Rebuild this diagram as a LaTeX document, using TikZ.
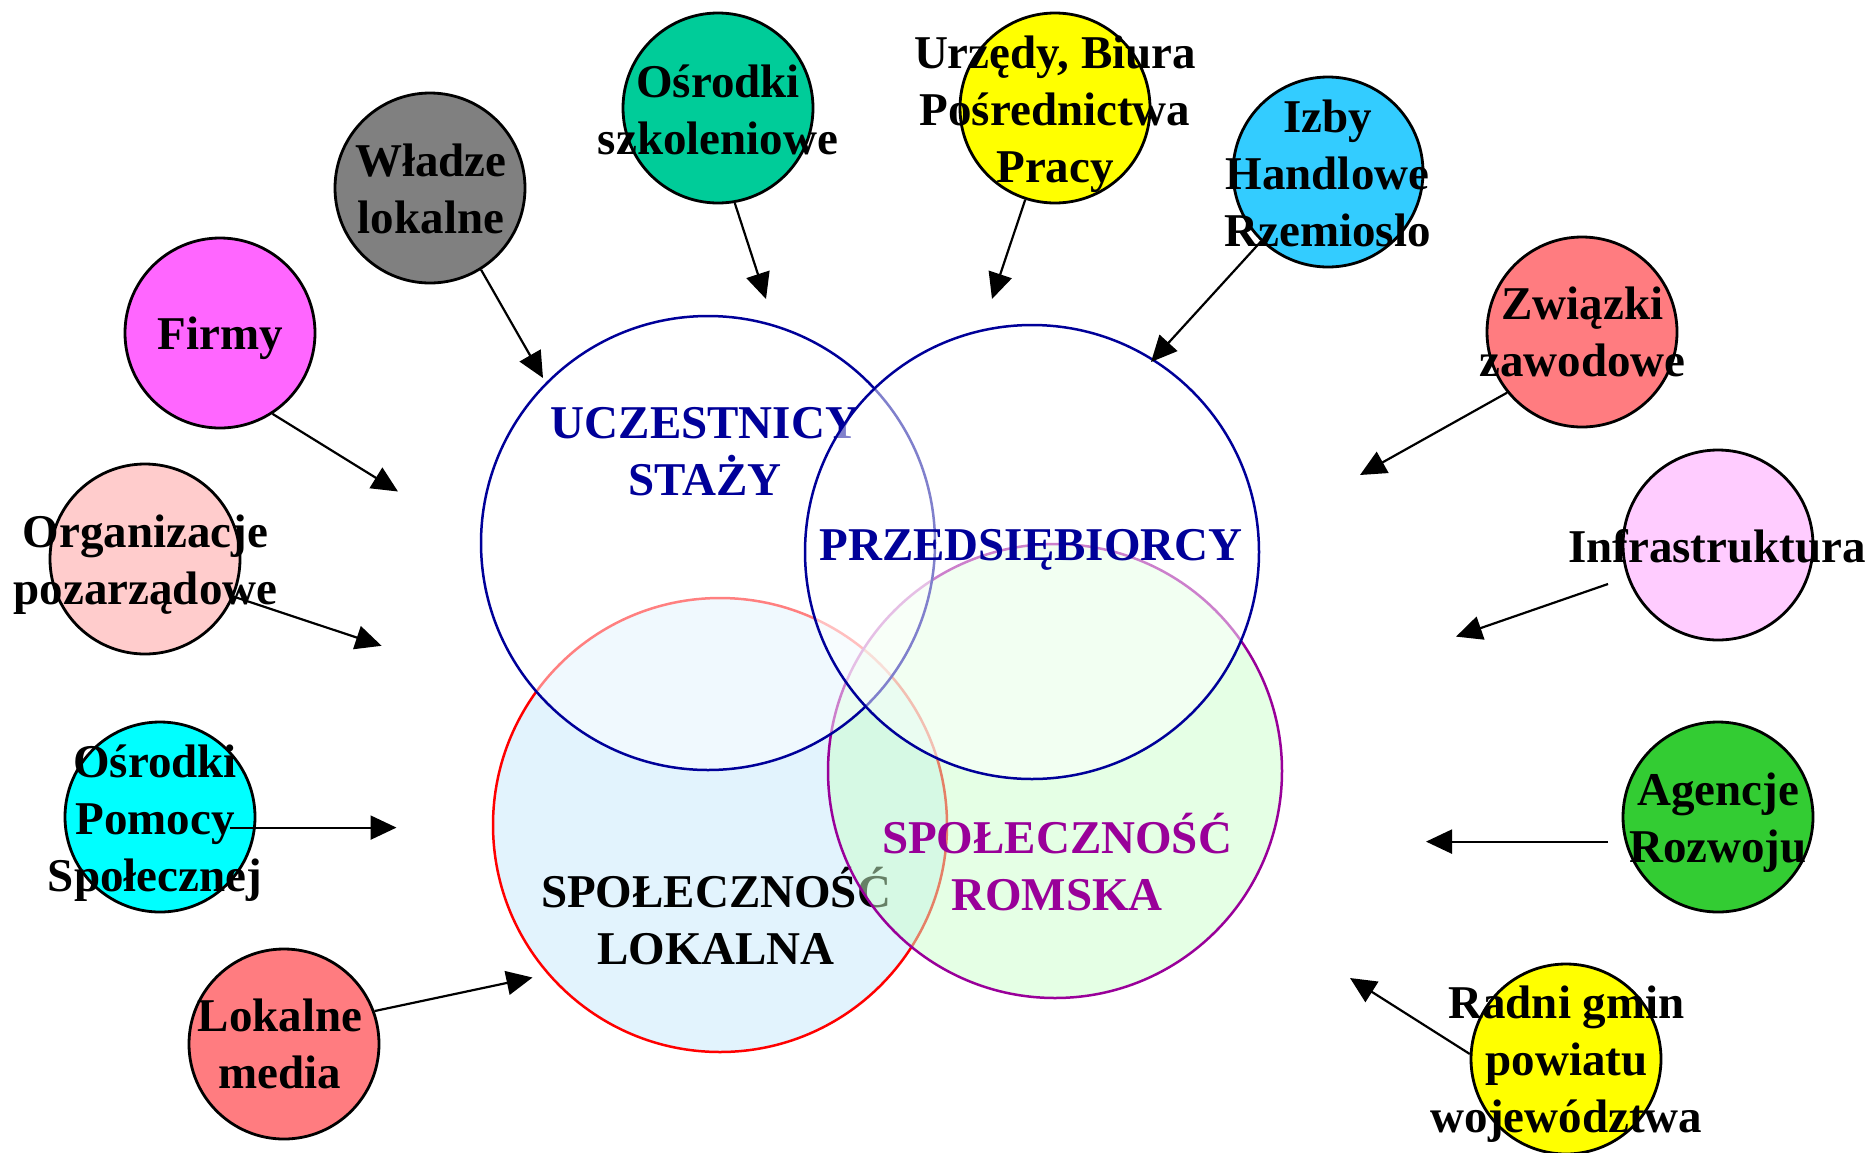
\documentclass[tikz,border=0pt]{standalone}
\usepackage{fontspec}
\setmainfont{Liberation Serif}
\usetikzlibrary{arrows.meta}
\definecolor{cOsk}{HTML}{00CC99}
\definecolor{cWla}{HTML}{808080}
\definecolor{cFir}{HTML}{FF66FF}
\definecolor{cOrg}{HTML}{FFCCCC}
\definecolor{cPom}{HTML}{00FFFF}
\definecolor{cMed}{HTML}{FF7C80}
\definecolor{cUrz}{HTML}{FFFF00}
\definecolor{cIzb}{HTML}{33CCFF}
\definecolor{cZwi}{HTML}{FF7C80}
\definecolor{cInf}{HTML}{FFCCFF}
\definecolor{cAge}{HTML}{33CC33}
\definecolor{cRad}{HTML}{FFFF00}
\definecolor{navyc}{HTML}{000099}
\definecolor{purc}{HTML}{990099}
\definecolor{lokfill}{HTML}{E2F3FD}
\definecolor{romfill}{HTML}{CCFFCC}
\newcommand\lbfont{\bfseries\fontsize{47}{57}\selectfont}
\newcommand\mlines[1]{\begin{tabular}[t]{@{}c@{}}#1\end{tabular}}
\tikzset{
  smallc/.style={circle, draw=black, line width=2.8pt, minimum size=190pt, inner sep=0pt},
  bigc/.style={circle, line width=2.5pt, minimum size=454pt, inner sep=0pt},
  lbl/.style={anchor=base, inner sep=0pt, font=\lbfont},
  arr/.style={line width=2.2pt, -{Triangle[length=26pt,width=24pt]}},
}
\begin{document}
\begin{tikzpicture}[x=1pt,y=-1pt]
\useasboundingbox (0,0) rectangle (1871,1152);

% big circles, in stacking order
\node[bigc, draw=red, fill=lokfill] (lok) at (720,825) {};
\node[lbl] (lokT) at (716,907.7) {\mlines{SPOŁECZNOŚĆ\\LOKALNA}};

\node[bigc, draw=purc, fill=romfill, fill opacity=0.5] (rom) at (1055,771) {};
\node[lbl, text=purc] (romT) at (1057,853) {\mlines{SPOŁECZNOŚĆ\\ROMSKA}};

\node[bigc, draw=navyc, fill=white, fill opacity=0.5] (ucz) at (708,543) {};
\node[lbl, text=navyc] (uczT) at (705,438) {\mlines{UCZESTNICY\\STAŻY}};

\node[bigc, draw=navyc, fill=white, fill opacity=0.5] (prz) at (1032,552) {};
\node[lbl, text=navyc] (przT) at (1031,560.3) {PRZEDSIĘBIORCY};

% small circles
\node[smallc, fill=cOsk] (osk) at (718,108) {};
\node[lbl] (oskT) at (718,97) {\mlines{Ośrodki\\szkoleniowe}};

\node[smallc, fill=cWla] (wla) at (430,188) {};
\node[lbl] (wlaT) at (431,176) {\mlines{Władze\\lokalne}};

\node[smallc, fill=cFir] (fir) at (220,333) {};
\node[lbl] (firT) at (220,349) {Firmy};

\node[smallc, fill=cOrg] (org) at (145,559) {};
\node[lbl] (orgT) at (145.5,547.4) {\mlines{Organizacje\\pozarządowe}};

\node[smallc, fill=cPom] (pom) at (160,817) {};
\node[lbl] (pomT) at (155,777) {\mlines{Ośrodki\\Pomocy\\Społecznej}};

\node[smallc, fill=cMed] (med) at (284,1044) {};
\node[lbl] (medT) at (280,1031.5) {\mlines{Lokalne\\media}};

\node[smallc, fill=cUrz] (urz) at (1055,108) {};
\node[lbl] (urzT) at (1055,68) {\mlines{Urzędy, Biura\\Pośrednictwa\\Pracy}};

\node[smallc, fill=cIzb] (izb) at (1328,172) {};
\node[lbl] (izbT) at (1327.5,132) {\mlines{Izby\\Handlowe\\Rzemioslo}};

\node[smallc, fill=cZwi] (zwi) at (1582,332) {};
\node[lbl] (zwiT) at (1582.5,319.6) {\mlines{Związki\\zawodowe}};

\node[smallc, fill=cInf] (inf) at (1718,545) {};
\node[lbl] (infT) at (1717,562) {Infrastruktura};

\node[smallc, fill=cAge] (age) at (1718,817) {};
\node[lbl] (ageT) at (1718,805.6) {\mlines{Agencje\\Rozwoju}};

\node[smallc, fill=cRad] (rad) at (1566,1059) {};
\node[lbl] (radT) at (1566.5,1018.7) {\mlines{Radni gmin\\powiatu\\województwa}};

% arrow end points
\coordinate (tOsk) at (766,299);
\coordinate (tWla) at (543,378);
\coordinate (tFir) at (398,491.5);
\coordinate (tOrg) at (381.6,645.8);
\coordinate (sPom) at (229.6,827.6);
\coordinate (tPom) at (396.5,827.6);
\coordinate (tMed) at (532.5,977.5);
\coordinate (tUrz) at (992,299);
\coordinate (tIzb) at (1151,362);
\coordinate (tZwi) at (1360,475);
\coordinate (sInf) at (1608,584);
\coordinate (tInf) at (1456,636.6);
\coordinate (sAge) at (1608,841.6);
\coordinate (tAge) at (1426,841.6);
\coordinate (tRad) at (1350,978);

\draw[arr] (osk.-80) -- (tOsk);
\draw[arr] (wla.-58) -- (tWla);
\draw[arr] (fir.-57) -- (tFir);
\draw[arr] (org.-23) -- (tOrg);
\draw[arr] (sPom) -- (tPom);
\draw[arr] (med.20) -- (tMed);
\draw[arr] (urz.-108) -- (tUrz);
\draw[arr] (izb.-134) -- (tIzb);
\draw[arr] (zwi.-141) -- (tZwi);
\draw[arr] (sInf) -- (tInf);
\draw[arr] (sAge) -- (tAge);
\draw[arr] (rad.177) -- (tRad);
\end{tikzpicture}
\end{document}
